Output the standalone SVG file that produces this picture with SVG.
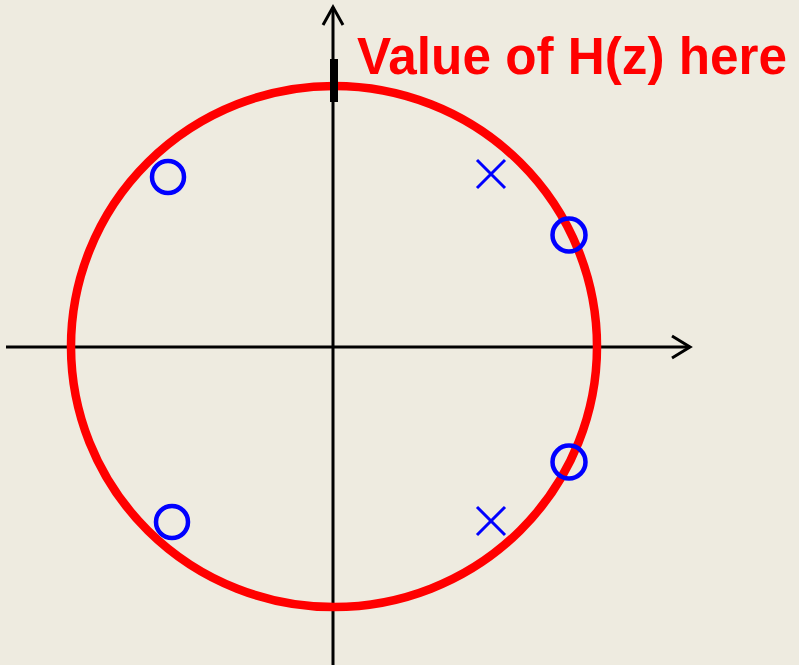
<svg xmlns="http://www.w3.org/2000/svg" width="799" height="665" viewBox="0 0 799 665">
<style>
.axis{stroke:#000;stroke-width:3;fill:none}
.zero{stroke:#0000FF;stroke-width:4.5;fill:none}
.pole{stroke:#0000FF;stroke-width:3;fill:none}
.lbl{font-family:"Comic Sans MS","Liberation Sans",Arial,sans-serif;font-weight:bold;fill:#FF0000}
</style>
<rect width="799" height="665" fill="#EEEBE0"/>
<g id="connectors">
<line class="axis" x1="6" y1="347" x2="690" y2="347"/>
<polyline class="axis" points="672,336 690,347 672,358"/>
<line class="axis" x1="333" y1="665" x2="333" y2="7"/>
<polyline class="axis" points="323,25 333,7 343,25"/>
</g>
<g id="unit-circle">
<ellipse cx="334" cy="346.5" rx="263" ry="260.5" fill="none" stroke="#FF0000" stroke-width="8.5"/>
</g>
<g id="marker-tick">
<rect x="330" y="59" width="8" height="43" fill="#000"/>
</g>
<g id="label">
<text class="lbl" x="357" y="74" font-size="51" textLength="430" lengthAdjust="spacingAndGlyphs">Value of H(z) here</text>
</g>
<g id="zero1"><circle class="zero" cx="168" cy="177" r="16"/></g>
<g id="zero2"><circle class="zero" cx="569" cy="235" r="16.5"/></g>
<g id="zero3"><circle class="zero" cx="569" cy="462" r="16.5"/></g>
<g id="zero4"><circle class="zero" cx="172" cy="522" r="16"/></g>
<g id="pole1"><path class="pole" d="M477,160 L505,188 M505,160 L477,188"/></g>
<g id="pole2"><path class="pole" d="M477,507 L505,535 M505,507 L477,535"/></g>
</svg>
